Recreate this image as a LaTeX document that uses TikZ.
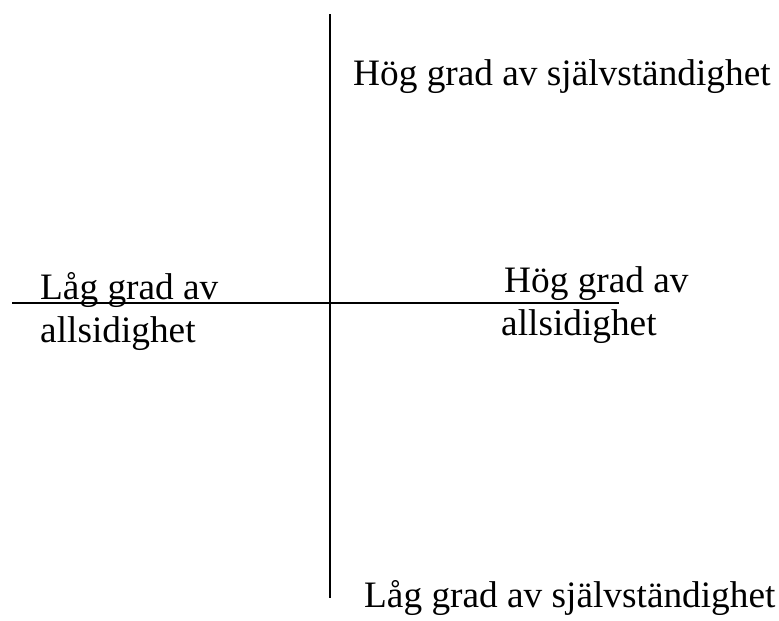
\documentclass[tikz,border=0pt]{standalone}
\usepackage{fontspec}
\setmainfont{Liberation Serif}
\begin{document}
\begin{tikzpicture}[x=1pt,y=-1pt,
  axis/.style={line width=2pt,black},
  lbl/.style={anchor=base west,inner sep=0pt,font=\fontsize{37.3}{43}\selectfont}]
  \useasboundingbox (0,0) rectangle (779,621);
  % axis end points
  \coordinate (top) at (330,14);
  \coordinate (bottom) at (330,598);
  \coordinate (left) at (12,302.5);
  \coordinate (right) at (619,302.5);
  \draw[axis] (top) -- (bottom);
  \draw[axis] (left) -- (right);
  % quadrant labels
  \node[lbl] (hs) at (353,85) {Hög grad av självständighet};
  \node[lbl] (ls) at (364,607) {Låg grad av självständighet};
  \node[lbl] (la1) at (40,299) {Låg grad av};
  \node[lbl] (la2) at (40,342) {allsidighet};
  \node[lbl] (ha1) at (504,292) {Hög grad av};
  \node[lbl] (ha2) at (501,335) {allsidighet};
\end{tikzpicture}
\end{document}
